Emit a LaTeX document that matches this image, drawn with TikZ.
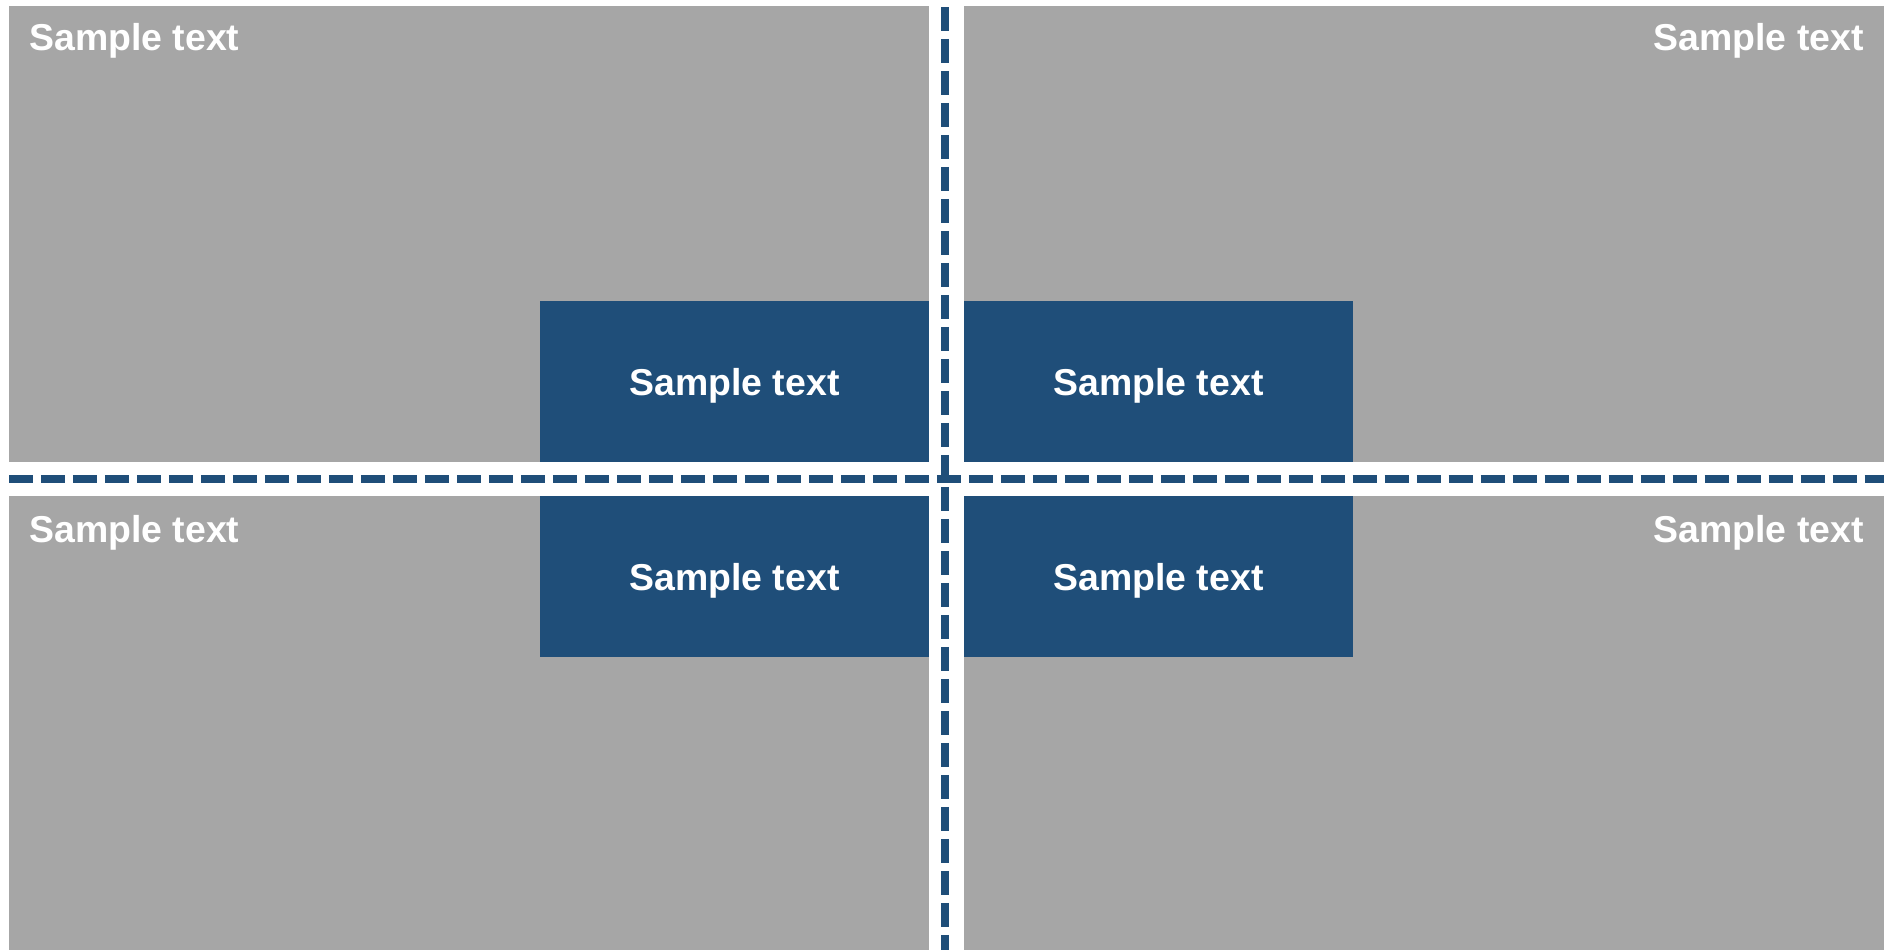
\documentclass[tikz,border=0pt]{standalone}
\usepackage{fontspec}
\setmainfont{Liberation Sans}
\usepackage{tikz}
\usetikzlibrary{positioning}
\definecolor{panelgray}{HTML}{A6A6A6}
\definecolor{darkblue}{HTML}{1F4E79}

\begin{document}
\begin{tikzpicture}[x=0.02cm, y=-0.02cm,
  panel/.style={fill=panelgray, draw=none},
  box/.style={fill=darkblue, draw=none, text=white, font=\bfseries\fontsize{21.3}{25}\selectfont,
    minimum width=7.78cm, minimum height=3.22cm, inner sep=0pt, text depth=0pt},
  corner/.style={text=white, font=\bfseries\fontsize{21.3}{25}\selectfont, inner sep=0pt},
  divider/.style={draw=darkblue, line width=0.16cm, dash pattern=on 0.48cm off 0.16cm}]

  \useasboundingbox (0,0) rectangle (1893,950);

  % four grey quarters
  \fill[panel] (9,6)    rectangle (929,462);
  \fill[panel] (964,6)  rectangle (1884,462);
  \fill[panel] (9,496)  rectangle (929,950);
  \fill[panel] (964,496) rectangle (1884,950);

  \node[box] (btl) at (734.5,381.5)  {Sample text};
  \node[box] (btr) at (1158.5,381.5) {Sample text};
  \node[box] (bbl) at (734.5,576.5)  {Sample text};
  \node[box] (bbr) at (1158.5,576.5) {Sample text};

  \node[corner, anchor=base west] (ctl) at (29,51)    {Sample text};
  \node[corner, anchor=base east] (ctr) at (1864,51)  {Sample text};
  \node[corner, anchor=base west] (cbl) at (29,542)   {Sample text};
  \node[corner, anchor=base east] (cbr) at (1864,542) {Sample text};

  \coordinate (hl) at (9,479);
  \coordinate (hr) at (1884,479);
  \coordinate (vt) at (945,7);
  \coordinate (vb) at (945,950);
  \draw[divider] (hl) -- (hr);
  \draw[divider] (vt) -- (vb);

\end{tikzpicture}
\end{document}
